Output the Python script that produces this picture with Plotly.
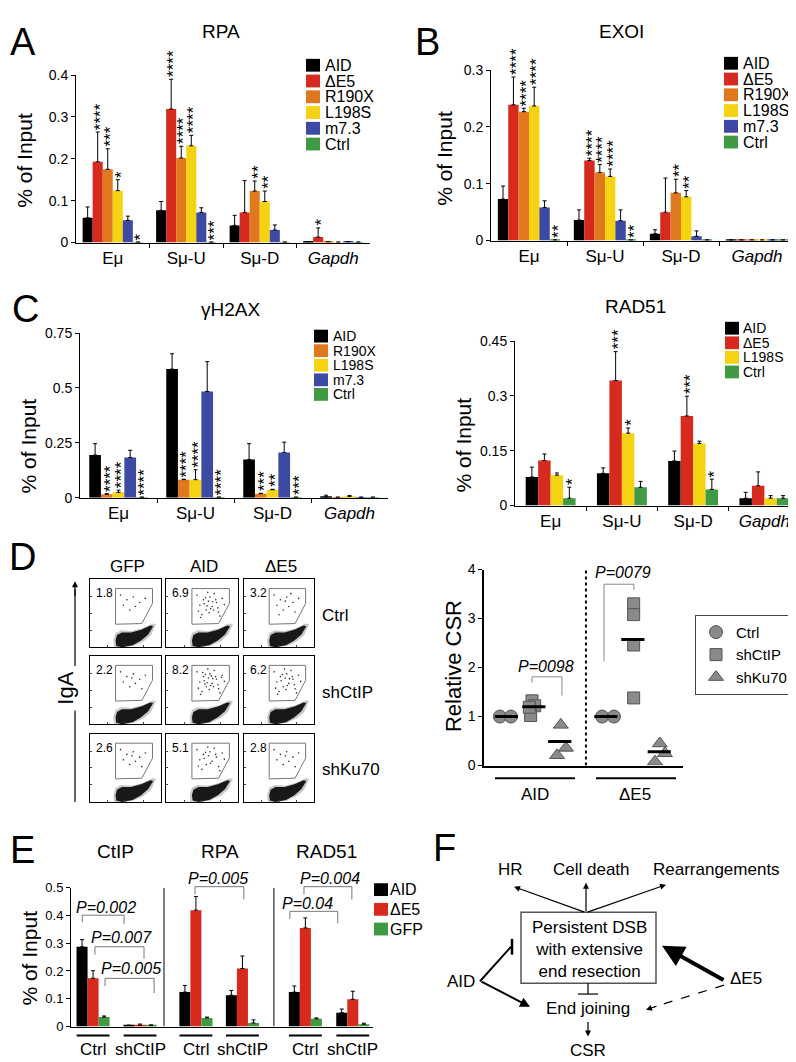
import plotly.graph_objects as go

W, H = 796, 1062
FONT = "Liberation Sans, Arial, Helvetica, sans-serif"

# ---------------- data ----------------
loci = ["Eμ", "Sμ-U", "Sμ-D", "Gapdh"]

series_colors = {"AID": "#000000", "ΔE5": "#d62a1e", "R190X": "#e0781e",
                 "L198S": "#f6d312", "m7.3": "#3d4aa3", "Ctrl": "#3f9a43",
                 "GFP": "#3f9a43"}

# Panel A: RPA
rpa_series = ["AID", "ΔE5", "R190X", "L198S", "m7.3", "Ctrl"]
rpa_mean = {"AID": [0.059, 0.077, 0.041, 0.002], "ΔE5": [0.193, 0.319, 0.072, 0.013],
            "R190X": [0.175, 0.202, 0.123, 0.002], "L198S": [0.124, 0.231, 0.098, 0.001],
            "m7.3": [0.053, 0.072, 0.030, 0.002], "Ctrl": [0.001, 0.001, 0.001, 0.001]}
rpa_err = {"AID": [0.026, 0.021, 0.024, 0.0], "ΔE5": [0.071, 0.071, 0.076, 0.022],
           "R190X": [0.049, 0.028, 0.024, 0.0], "L198S": [0.026, 0.025, 0.025, 0.0],
           "m7.3": [0.010, 0.011, 0.012, 0.0], "Ctrl": [0.0, 0.0, 0.0, 0.0]}
rpa_stars = [(0, "ΔE5", "****"), (0, "R190X", "***"), (0, "L198S", "*"), (0, "Ctrl", "*"),
             (1, "ΔE5", "****"), (1, "R190X", "****"), (1, "L198S", "****"), (1, "Ctrl", "***"),
             (2, "R190X", "**"), (2, "L198S", "**"), (3, "ΔE5", "*")]

# Panel B: EXOI
exo_series = ["AID", "ΔE5", "R190X", "L198S", "m7.3", "Ctrl"]
exo_mean = {"AID": [0.073, 0.036, 0.012, 0.001], "ΔE5": [0.239, 0.141, 0.050, 0.001],
            "R190X": [0.227, 0.120, 0.084, 0.001], "L198S": [0.237, 0.113, 0.077, 0.001],
            "m7.3": [0.058, 0.035, 0.0075, 0.001], "Ctrl": [0.001, 0.001, 0.001, 0.001]}
exo_err = {"AID": [0.023, 0.018, 0.007, 0.0], "ΔE5": [0.049, 0.004, 0.060, 0.0],
           "R190X": [0.006, 0.014, 0.024, 0.0], "L198S": [0.033, 0.013, 0.011, 0.0],
           "m7.3": [0.012, 0.019, 0.0095, 0.0], "Ctrl": [0.0, 0.0, 0.0, 0.0]}
exo_stars = [(0, "ΔE5", "****"), (0, "R190X", "****"), (0, "L198S", "****"), (0, "Ctrl", "**"),
             (1, "ΔE5", "****"), (1, "R190X", "****"), (1, "L198S", "****"), (1, "Ctrl", "**"),
             (2, "R190X", "**"), (2, "L198S", "**")]

# Panel C left: gammaH2AX
h2ax_series = ["AID", "R190X", "L198S", "m7.3", "Ctrl"]
h2ax_mean = {"AID": [0.194, 0.586, 0.174, 0.003], "R190X": [0.015, 0.082, 0.018, 0.002],
             "L198S": [0.024, 0.082, 0.036, 0.005], "m7.3": [0.183, 0.484, 0.206, 0.002],
             "Ctrl": [0.002, 0.002, 0.002, 0.002]}
h2ax_err = {"AID": [0.052, 0.070, 0.072, 0.008], "R190X": [0.003, 0.002, 0.002, 0.0],
            "L198S": [0.010, 0.045, 0.002, 0.005], "m7.3": [0.033, 0.136, 0.047, 0.0],
            "Ctrl": [0.0, 0.0, 0.0, 0.0]}
h2ax_stars = [(0, "R190X", "****"), (0, "L198S", "****"), (0, "Ctrl", "****"),
              (1, "R190X", "****"), (1, "L198S", "****"), (1, "Ctrl", "****"),
              (2, "R190X", "***"), (2, "L198S", "**"), (2, "Ctrl", "***")]

# Panel C right: RAD51
rad_series = ["AID", "ΔE5", "L198S", "Ctrl"]
rad_mean = {"AID": [0.078, 0.088, 0.122, 0.020], "ΔE5": [0.123, 0.342, 0.245, 0.054],
            "L198S": [0.083, 0.198, 0.170, 0.020], "Ctrl": [0.020, 0.050, 0.044, 0.020]}
rad_err = {"AID": [0.027, 0.015, 0.027, 0.016], "ΔE5": [0.018, 0.079, 0.054, 0.038],
           "L198S": [0.006, 0.014, 0.006, 0.007], "Ctrl": [0.030, 0.016, 0.028, 0.007]}
rad_stars = [(0, "Ctrl", "*"), (1, "ΔE5", "***"), (1, "L198S", "*"),
             (2, "ΔE5", "***"), (2, "Ctrl", "*")]

# Panel D: flow cytometry
flow_cols = ["GFP", "AID", "ΔE5"]
flow_rows = ["Ctrl", "shCtIP", "shKu70"]
flow_pct = [["1.8", "6.9", "3.2"], ["2.2", "8.2", "6.2"], ["2.6", "5.1", "2.8"]]
flow_gate_dots = [[8, 26, 12], [10, 30, 24], [10, 20, 10]]
gate_x = [0.36, 0.88, 0.88, 0.73, 0.36, 0.36]
gate_y = [0.865, 0.865, 0.645, 0.35, 0.34, 0.865]
blob_x = [0.37, 0.45, 0.60, 0.72, 0.82, 0.89, 0.85, 0.72, 0.58, 0.45, 0.38, 0.36, 0.37]
blob_y = [0.02, 0.0, 0.03, 0.10, 0.19, 0.31, 0.32, 0.26, 0.22, 0.22, 0.18, 0.10, 0.02]
haze_x = [0.34, 0.45, 0.62, 0.76, 0.86, 0.93, 0.88, 0.74, 0.58, 0.44, 0.36, 0.33, 0.34]
haze_y = [0.0, 0.0, 0.02, 0.09, 0.18, 0.34, 0.35, 0.28, 0.24, 0.25, 0.21, 0.10, 0.0]
dots_x = [0.52, 0.61, 0.47, 0.70, 0.56, 0.78, 0.64, 0.43, 0.59, 0.73, 0.50, 0.67, 0.81, 0.55, 0.62,
          0.45, 0.75, 0.58, 0.69, 0.53, 0.65, 0.48, 0.72, 0.60, 0.57, 0.66, 0.51, 0.77, 0.63, 0.54]
dots_y = [0.70, 0.74, 0.62, 0.66, 0.55, 0.72, 0.60, 0.77, 0.68, 0.52, 0.48, 0.79, 0.63, 0.73, 0.57,
          0.53, 0.46, 0.81, 0.70, 0.64, 0.67, 0.44, 0.58, 0.51, 0.61, 0.55, 0.76, 0.69, 0.71, 0.59]

# Panel D right: relative CSR
csr_ctrl_x = [0.81, 1.22, 4.60, 5.04]
csr_ctrl_y = [1.0, 1.0, 1.0, 1.0]
csr_shctip_x = [2.00, 2.10, 1.95, 1.90, 5.77, 5.77, 5.77, 5.77]
csr_shctip_y = [1.32, 1.22, 1.02, 1.19, 3.30, 3.08, 2.46, 1.38]
csr_shku_x = [3.07, 3.26, 2.93, 6.74, 6.93, 6.56]
csr_shku_y = [0.83, 0.36, 0.21, 0.45, 0.25, 0.08]
csr_mean_x = [1.05, 2.07, 3.03, 4.74, 5.74, 6.72]
csr_mean_y = [1.0, 1.2, 0.49, 1.0, 2.57, 0.28]

# Panel E
e_targets = ["CtIP", "RPA", "RAD51"]
e_groups = ["Ctrl", "shCtIP", "Ctrl", "shCtIP", "Ctrl", "shCtIP"]
e_series = ["AID", "ΔE5", "GFP"]
e_mean = {"AID": [0.287, 0.004, 0.124, 0.113, 0.124, 0.050],
          "ΔE5": [0.174, 0.005, 0.419, 0.209, 0.355, 0.098],
          "GFP": [0.034, 0.004, 0.031, 0.013, 0.028, 0.008]}
e_err = {"AID": [0.026, 0.001, 0.024, 0.017, 0.022, 0.013],
         "ΔE5": [0.027, 0.004, 0.049, 0.045, 0.036, 0.029],
         "GFP": [0.004, 0.002, 0.003, 0.011, 0.003, 0.004]}
e_pvals = ["P=0.002", "P=0.007", "P=0.005", "P=0.005", "P=0.004", "P=0.04"]

# ---------------- helpers ----------------
fig = go.Figure()
layout = dict(width=W, height=H, margin=dict(l=0, r=0, t=0, b=0),
              paper_bgcolor="white", plot_bgcolor="white", barmode="overlay",
              font=dict(family=FONT, color="black"), showlegend=True)
annots = []
shapes = []
naxes = [0]


def P(px):
    return px / W


def Q(py):
    return 1 - py / H


def new_axes(x0, x1, ytop, ybot, xkw, ykw):
    naxes[0] += 1
    n = naxes[0]
    sx = "" if n == 1 else str(n)
    layout["xaxis" + sx] = dict(domain=[P(x0), P(x1)], anchor="y" + sx, **xkw)
    layout["yaxis" + sx] = dict(domain=[Q(ybot), Q(ytop)], anchor="x" + sx, **ykw)
    return "x" + sx, "y" + sx


def text(x, y, s, size=17, xanchor="center", yanchor="middle", angle=0, italic=False, **kw):
    if italic:
        s = "<i>" + s + "</i>"
    annots.append(dict(x=P(x), y=Q(y), xref="paper", yref="paper", text=s, showarrow=False,
                       font=dict(size=size, family=FONT, color="black"), xanchor=xanchor,
                       yanchor=yanchor, textangle=angle, **kw))


def pline(x0, y0, x1, y1, width=1, color="black", dash=None):
    shapes.append(dict(type="line", xref="paper", yref="paper", x0=P(x0), y0=Q(y0),
                       x1=P(x1), y1=Q(y1), line=dict(color=color, width=width, dash=dash)))


def arrow(tx, ty, hx, hy, width=1.2, head=2, size=1.0):
    annots.append(dict(x=P(hx), y=Q(hy), xref="paper", yref="paper", ax=tx - hx, ay=ty - hy,
                       axref="pixel", ayref="pixel", text="", showarrow=True, arrowhead=head,
                       arrowsize=size, arrowwidth=width, arrowcolor="black"))


def bar_legend(names, sq_x, y0, dy, text_x, size=16):
    for i, nm in enumerate(names):
        yc = y0 + i * dy
        shapes.append(dict(type="rect", xref="paper", yref="paper", x0=P(sq_x), x1=P(sq_x + 14),
                           y0=Q(yc + 6.5), y1=Q(yc - 6.5), fillcolor=series_colors[nm],
                           line=dict(width=0)))
        text(text_x, yc, nm, size=size, xanchor="left")


def bar_panel(series, means, errs, stars, box, yrange, ytv, ytt, group_w):
    x0, x1, ytop, ybot = box
    xkw = dict(range=[-0.5, 3.5], showline=True, linecolor="black", linewidth=1,
               tickmode="array", tickvals=[0, 1, 2, 3],
               ticktext=["Eμ", "Sμ-U", "Sμ-D", "<i>Gapdh</i>"], ticks="",
               tickfont=dict(size=17), showgrid=False, zeroline=False,
               minor=dict(tickmode="array", tickvals=[0.5, 1.5, 2.5], ticks="outside",
                          ticklen=4, tickcolor="black", showgrid=False))
    ykw = dict(range=yrange, showline=True, linecolor="black", linewidth=1, tickmode="array",
               tickvals=ytv, ticktext=ytt, ticks="outside", ticklen=4, tickcolor="black",
               tickfont=dict(size=14), showgrid=False, zeroline=False)
    xr, yr = new_axes(x0, x1, ytop, ybot, xkw, ykw)
    k = len(series)
    w = group_w / k
    for i, s in enumerate(series):
        fig.add_trace(go.Bar(
            x=list(range(len(loci))), y=means[s], width=w, offset=-group_w / 2 + i * w,
            marker=dict(color=series_colors[s], line=dict(width=0)),
            error_y=dict(type="data", array=errs[s], arrayminus=[0] * len(loci),
                         symmetric=False, color="black", thickness=1, width=2),
            xaxis=xr, yaxis=yr, showlegend=False, name=s))
    for ci, s, st in stars:
        i = series.index(s)
        xc = ci - group_w / 2 + (i + 0.5) * w
        yv = means[s][ci] + errs[s][ci]
        annots.append(dict(x=xc, y=yv, xref=xr, yref=yr, text=st, showarrow=False,
                           textangle=-90, xanchor="center", yanchor="bottom", yshift=0,
                           xshift=3, font=dict(size=17, family=FONT, color="#000000")))
    return xr, yr


# ---------------- Panel A ----------------
text(15, 26, "A", size=38)
text(213, 16, "RPA", size=19)
text(17, 147, "% of Input", size=21, angle=-90)
bar_panel(rpa_series, rpa_mean, rpa_err, rpa_stars, (68, 362, 60, 230), [0, 0.4],
          [0, 0.1, 0.2, 0.3, 0.4], ["0", "0.1", "0.2", "0.3", "0.4"], 0.82)
bar_legend(rpa_series, 298, 50, 16, 315)

# ---------------- Panel B ----------------
text(419, 26, "B", size=38)
text(613, 16, "EXOI", size=19)
text(437, 145, "% of Input", size=21, angle=-90)
bar_panel(exo_series, exo_mean, exo_err, exo_stars, (483, 787, 55, 228), [0, 0.3],
          [0, 0.1, 0.2, 0.3], ["0", "0.1", "0.2", "0.3"], 0.82)
bar_legend(exo_series, 716, 48, 16, 733)

# ---------------- Panel C ----------------
text(17, 297, "C", size=38)
text(222, 298, "γH2AX", size=19)
text(20, 437, "% of Input", size=21, angle=-90)
bar_panel(h2ax_series, h2ax_mean, h2ax_err, h2ax_stars, (72, 380, 322, 489), [0, 0.75],
          [0, 0.25, 0.5, 0.75], ["0", "0.25", "0.5", "0.75"], 0.76)
bar_legend(h2ax_series, 306, 325, 14.8, 323, size=14)

text(627, 295, "RAD51", size=19)
text(455, 435, "% of Input", size=21, angle=-90)
bar_panel(rad_series, rad_mean, rad_err, rad_stars, (507, 792, 330, 497), [0, 0.45],
          [0, 0.15, 0.3, 0.45], ["0", "0.15", "0.3", "0.45"], 0.70)
bar_legend(rad_series, 717, 317, 14.8, 733, size=14)

# ---------------- Panel D (flow) ----------------
text(14, 549, "D", size=38)
col_px = [(82, 153), (158, 230), (236, 306)]
row_px = [(572, 641), (650, 719), (729, 798)]
for c, nm in enumerate(flow_cols):
    text((col_px[c][0] + col_px[c][1]) / 2 + 2, 559, nm, size=17)
for r, nm in enumerate(flow_rows):
    text(312, (row_px[r][0] + row_px[r][1]) / 2 + 2, nm, size=17, xanchor="left")
for r in range(3):
    for c in range(3):
        fx = dict(range=[0, 1], showline=True, mirror=True, linecolor="black", linewidth=1,
                  tickmode="array", tickvals=[0.25, 0.5, 0.75], ticks="inside", ticklen=2,
                  tickcolor="#444", showticklabels=False, showgrid=False, zeroline=False)
        xr, yr = new_axes(col_px[c][0], col_px[c][1], row_px[r][0], row_px[r][1], fx, dict(fx))
        fig.add_trace(go.Scatter(x=haze_x, y=haze_y, mode="lines", fill="toself",
                                 fillcolor="rgba(0,0,0,0.22)", line=dict(width=0),
                                 xaxis=xr, yaxis=yr, showlegend=False, hoverinfo="skip"))
        fig.add_trace(go.Scatter(x=blob_x, y=blob_y, mode="lines", fill="toself",
                                 fillcolor="rgba(0,0,0,0.88)", line=dict(width=0),
                                 xaxis=xr, yaxis=yr, showlegend=False, hoverinfo="skip"))
        nd = flow_gate_dots[r][c]
        fig.add_trace(go.Scatter(x=dots_x[:nd], y=dots_y[:nd], mode="markers",
                                 marker=dict(size=1.6, color="#333"),
                                 xaxis=xr, yaxis=yr, showlegend=False, hoverinfo="skip"))
        fig.add_trace(go.Scatter(x=gate_x, y=gate_y, mode="lines",
                                 line=dict(color="#777", width=1),
                                 xaxis=xr, yaxis=yr, showlegend=False, hoverinfo="skip"))
        annots.append(dict(x=0.05, y=0.80, xref=xr, yref=yr, text=flow_pct[r][c],
                           showarrow=False, xanchor="left", yanchor="middle",
                           font=dict(size=12, family=FONT, color="black")))

text(58, 683, "IgA", size=22, angle=-90)
pline(67, 798, 67, 705, width=1.2)
pline(67, 660, 67, 582, width=1.2)
arrow(67, 590, 67, 574, width=1.2, head=2, size=1)

# ---------------- Panel D right: relative CSR ----------------
dxk = dict(range=[0.22, 7.6], showline=True, linecolor="black", linewidth=1.5, ticks="",
           showticklabels=False, showgrid=False, zeroline=False)
dyk = dict(range=[0, 4], showline=True, linecolor="black", linewidth=1.5, tickmode="array",
           tickvals=[0, 1, 2, 3, 4], ticks="outside", ticklen=4, tickcolor="black",
           tickfont=dict(size=14), showgrid=False, zeroline=False)
dx, dy = new_axes(476, 675, 562, 761, dxk, dyk)
shapes.append(dict(type="line", xref=dx, yref=dy, x0=4, x1=4, y0=0, y1=4,
                   line=dict(color="black", width=2, dash="dot")))
mk = dict(color="#8a8a8a", line=dict(color="#555", width=1))
fig.add_trace(go.Scatter(x=csr_ctrl_x, y=csr_ctrl_y, mode="markers", name="Ctrl",
                         marker=dict(symbol="circle", size=13, **mk), xaxis=dx, yaxis=dy))
fig.add_trace(go.Scatter(x=csr_shctip_x, y=csr_shctip_y, mode="markers", name="shCtIP",
                         marker=dict(symbol="square", size=12, **mk), xaxis=dx, yaxis=dy))
fig.add_trace(go.Scatter(x=csr_shku_x, y=csr_shku_y, mode="markers", name="shKu70",
                         marker=dict(symbol="triangle-up", size=13, **mk), xaxis=dx, yaxis=dy))
mx, my = [], []
for xc, yv in zip(csr_mean_x, csr_mean_y):
    mx += [xc - 0.43, xc + 0.43, None]
    my += [yv, yv, None]
fig.add_trace(go.Scatter(x=mx, y=my, mode="lines", line=dict(color="black", width=3),
                         xaxis=dx, yaxis=dy, showlegend=False, hoverinfo="skip"))
for (xa, xb, yh, ya, yb) in [(2.0, 3.11, 1.81, 1.69, 1.43), (4.67, 5.78, 3.70, 2.13, 3.58)]:
    shapes.append(dict(type="path", xref=dx, yref=dy,
                       path=f"M {xa},{ya} L {xa},{yh} L {xb},{yh} L {xb},{yb}",
                       line=dict(color="#888", width=1)))
annots.append(dict(x=2.52, y=2.03, xref=dx, yref=dy, text="<i>P=0098</i>", showarrow=False,
                   yanchor="middle", font=dict(size=16, family=FONT, color="black")))
annots.append(dict(x=5.37, y=Q(565), xref=dx, yref="paper", text="<i>P=0079</i>",
                   showarrow=False, yanchor="middle",
                   font=dict(size=16, family=FONT, color="black")))
text(445, 660, "Relative CSR", size=22, angle=-90)
pline(487, 774, 567, 774, width=2)
pline(588, 774, 668, 774, width=2)
text(527, 790, "AID", size=17)
text(627, 790, "ΔE5", size=17)
layout["legend"] = dict(x=P(687), y=Q(608), xanchor="left", yanchor="top",
                        bordercolor="#444", borderwidth=1, bgcolor="white",
                        font=dict(size=15, family=FONT), itemwidth=30, tracegroupgap=2)

# ---------------- Panel E ----------------
text(14, 847, "E", size=38)
e_pos = [0.0, 1.0, 2.19, 3.18, 4.52, 5.53]
for t, xpx in zip(e_targets, [107, 212, 318]):
    text(xpx, 848, t, size=19)
text(22, 957, "% of Input", size=21, angle=-90)
exk = dict(range=[-0.47, 5.96], showline=True, linecolor="black", linewidth=1, ticks="",
           showticklabels=False, showgrid=False, zeroline=False)
eyk = dict(range=[0, 0.5], showline=True, linecolor="black", linewidth=1, tickmode="array",
           tickvals=[0, 0.1, 0.2, 0.3, 0.4, 0.5],
           ticktext=["0", "0.1", "0.2", "0.3", "0.4", "0.5"], ticks="outside", ticklen=4,
           tickcolor="black", tickfont=dict(size=13), showgrid=False, zeroline=False)
ex, ey = new_axes(63, 365, 885, 1026, exk, eyk)
bw = 0.235
for i, s in enumerate(e_series):
    fig.add_trace(go.Bar(x=e_pos, y=e_mean[s], width=bw, offset=-1.5 * bw + i * bw,
                         marker=dict(color=series_colors[s], line=dict(width=0)),
                         error_y=dict(type="data", array=e_err[s], arrayminus=[0] * 6,
                                      symmetric=False, color="black", thickness=1, width=2),
                         xaxis=ex, yaxis=ey, showlegend=False, name=s))
for xd in [1.51, 3.85]:
    shapes.append(dict(type="line", xref=ex, yref=ey, x0=xd, x1=xd, y0=0, y1=0.5,
                       line=dict(color="black", width=1)))


def ev(v):  # value on panel E's y scale -> paper y
    return Q(1026 - v * 281.2)


brackets = [(-0.23, 0.66, 0.402, 0.377, 0.370, 0.28, 0.43),
            (0.04, 1.085, 0.288, 0.260, 0.245, 0.60, 0.32),
            (0.255, 1.30, 0.174, 0.146, 0.121, 0.81, 0.21),
            (2.17, 3.21, 0.505, 0.477, 0.459, 2.66, 0.533),
            (4.49, 5.51, 0.505, 0.477, 0.459, 5.04, 0.533),
            (4.19, 5.21, 0.416, 0.388, 0.373, 4.57, 0.445)]
for (xa, xb, yh, ya, yb, tx, ty), pv in zip(brackets, e_pvals):
    shapes.append(dict(type="path", xref=ex, yref="paper",
                       path=f"M {xa},{ev(ya)} L {xa},{ev(yh)} L {xb},{ev(yh)} L {xb},{ev(yb)}",
                       line=dict(color="#777", width=1)))
    annots.append(dict(x=tx, y=ev(ty), xref=ex, yref="paper", text="<i>" + pv + "</i>",
                       showarrow=False, yanchor="middle",
                       font=dict(size=16, family=FONT, color="black")))
for xc, g in zip(e_pos, e_groups):
    shapes.append(dict(type="line", xref=ex, yref="paper", x0=xc - 0.35, x1=xc + 0.35,
                       y0=Q(1035), y1=Q(1035), line=dict(color="black", width=2)))
    annots.append(dict(x=xc, y=Q(1049), xref=ex, yref="paper", text=g, showarrow=False,
                       yanchor="middle", font=dict(size=17, family=FONT, color="black")))
bar_legend(e_series, 366, 887, 20, 380)

# ---------------- Panel F ----------------
text(436, 845, "F", size=38)
text(502, 867, "HR", size=17)
text(583, 867, "Cell death", size=17)
text(708, 867, "Rearrangements", size=17)
shapes.append(dict(type="rect", xref="paper", yref="paper", x0=P(513), x1=P(648),
                   y0=Q(982), y1=Q(910), line=dict(color="#555", width=1.5)))
text(581, 948, "Persistent DSB<br>with extensive<br>end resection", size=17)
arrow(578, 910, 506, 884)
arrow(578, 910, 578, 880)
arrow(578, 910, 658, 882)
text(453, 980, "AID", size=17)
pline(472, 980, 503, 945, width=2)
pline(504, 937, 504, 953, width=2.5)
arrow(472, 980, 522, 1006, width=2)
text(580, 1008, "End joining", size=17)
pline(580, 982, 580, 993, width=1.2)
pline(570, 993, 590, 993, width=1.2)
arrow(580, 1020, 580, 1036, width=1.2)
text(580, 1050, "CSR", size=17)
text(738, 977, "ΔE5", size=17)
arrow(717, 979, 654, 944, width=4, size=1.1)
pline(716, 984, 646, 1006, width=1.2, dash="dash")
arrow(650, 1005, 638, 1009, width=1.2)

layout["annotations"] = annots
layout["shapes"] = shapes
fig.update_layout(**layout)
fig.write_html("out.html")
